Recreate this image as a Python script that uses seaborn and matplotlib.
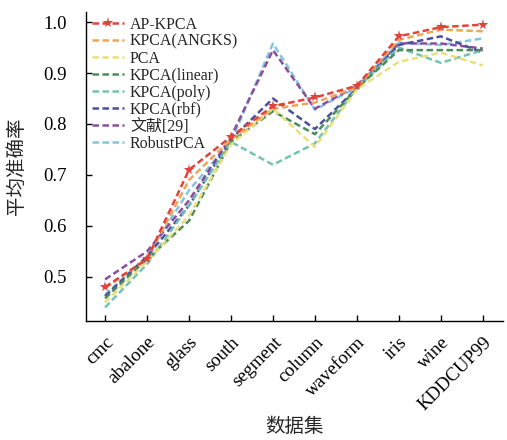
import pandas as pd
import seaborn as sns
import matplotlib.pyplot as plt

# Data
datasets = ["cmc", "abalone", "glass", "south", "segment", "column",
            "waveform", "iris", "wine", "KDDCUP99"]

ap_kpca = [0.480, 0.535, 0.710, 0.775, 0.835, 0.852, 0.875, 0.972, 0.990, 0.995]
kpca_angks = [0.478, 0.535, 0.690, 0.770, 0.830, 0.842, 0.872, 0.965, 0.985, 0.982]
pca = [0.450, 0.530, 0.620, 0.760, 0.830, 0.755, 0.868, 0.922, 0.940, 0.915]
kpca_linear = [0.458, 0.535, 0.610, 0.765, 0.825, 0.780, 0.870, 0.945, 0.945, 0.945]
kpca_poly = [0.440, 0.525, 0.640, 0.765, 0.720, 0.762, 0.870, 0.950, 0.920, 0.945]
kpca_rbf = [0.462, 0.540, 0.640, 0.770, 0.850, 0.790, 0.870, 0.955, 0.972, 0.940]
ref29 = [0.495, 0.550, 0.650, 0.775, 0.945, 0.830, 0.875, 0.958, 0.958, 0.948]
robust_pca = [0.465, 0.540, 0.670, 0.765, 0.958, 0.828, 0.872, 0.960, 0.955, 0.968]

series_names = ["AP-KPCA", "KPCA(ANGKS)", "PCA", "KPCA(linear)", "KPCA(poly)",
                "KPCA(rbf)", "文献[29]", "RobustPCA"]
series_values = [ap_kpca, kpca_angks, pca, kpca_linear, kpca_poly,
                 kpca_rbf, ref29, robust_pca]
colors = ["#e0443c", "#eea55a", "#e8e07a", "#4f8a5c", "#74c2b4",
          "#4b4f9c", "#8a4f9c", "#84c4e2"]

rows = []
for name, vals in zip(series_names, series_values):
    for i, v in enumerate(vals):
        rows.append({"idx": i, "acc": v, "method": name})
df = pd.DataFrame(rows)

sns.set_style("ticks")
plt.rcParams['font.family'] = ['Liberation Serif', 'Noto Sans CJK SC']

fig = plt.figure(figsize=(5.07, 4.40), dpi=100)
ax = fig.add_axes([0.170, 0.270, 0.822, 0.703])

# draw in reverse so AP-KPCA ends up on top
for name, col in reversed(list(zip(series_names, colors))):
    sub = df[df["method"] == name]
    sns.lineplot(data=sub, x="idx", y="acc", ax=ax, color=col, linewidth=1.8,
                 marker="*" if name == "AP-KPCA" else None, markersize=8,
                 markeredgewidth=0, label=name)
    ax.lines[-1].set_dashes((2.6, 1.4))

# legend in original order
handles, labels = ax.get_legend_handles_labels()
order = [labels.index(n) for n in series_names]
for h in handles:
    h.set_dashes((2.6, 1.4))
ax.legend([handles[i] for i in order], [labels[i] for i in order],
          loc="upper left", bbox_to_anchor=(-0.01, 1.015), frameon=False,
          labelspacing=0.06, handlelength=2.0, handletextpad=0.4,
          borderaxespad=0.2,
          prop={'family': ['Liberation Serif', 'Noto Sans CJK SC'], 'size': 11.5})

ax.set_xlim(-0.45, 9.48)
ax.set_ylim(0.413, 1.02)
ax.set_xticks(range(len(datasets)))
ax.set_xticklabels(datasets, rotation=45, ha="right", rotation_mode="anchor")
ax.set_yticks([0.5, 0.6, 0.7, 0.8, 0.9, 1.0])
ax.set_yticklabels(["0.5", "0.6", "0.7", "0.8", "0.9", "1.0"])
ax.tick_params(direction="in", length=4, width=1, labelsize=13.5, colors="black")
ax.tick_params(axis="y", pad=14)
ax.tick_params(axis="x", pad=9)
for s in ["top", "right"]:
    ax.spines[s].set_visible(False)
for s in ["left", "bottom"]:
    ax.spines[s].set_color("black")
    ax.spines[s].set_linewidth(1)

ax.set_xlabel("数据集", fontsize=14, family="Noto Sans CJK SC", labelpad=2)
ax.set_ylabel("平均准确率", fontsize=14, family="Noto Sans CJK SC", labelpad=12)

fig.savefig("out.png", dpi=100)
